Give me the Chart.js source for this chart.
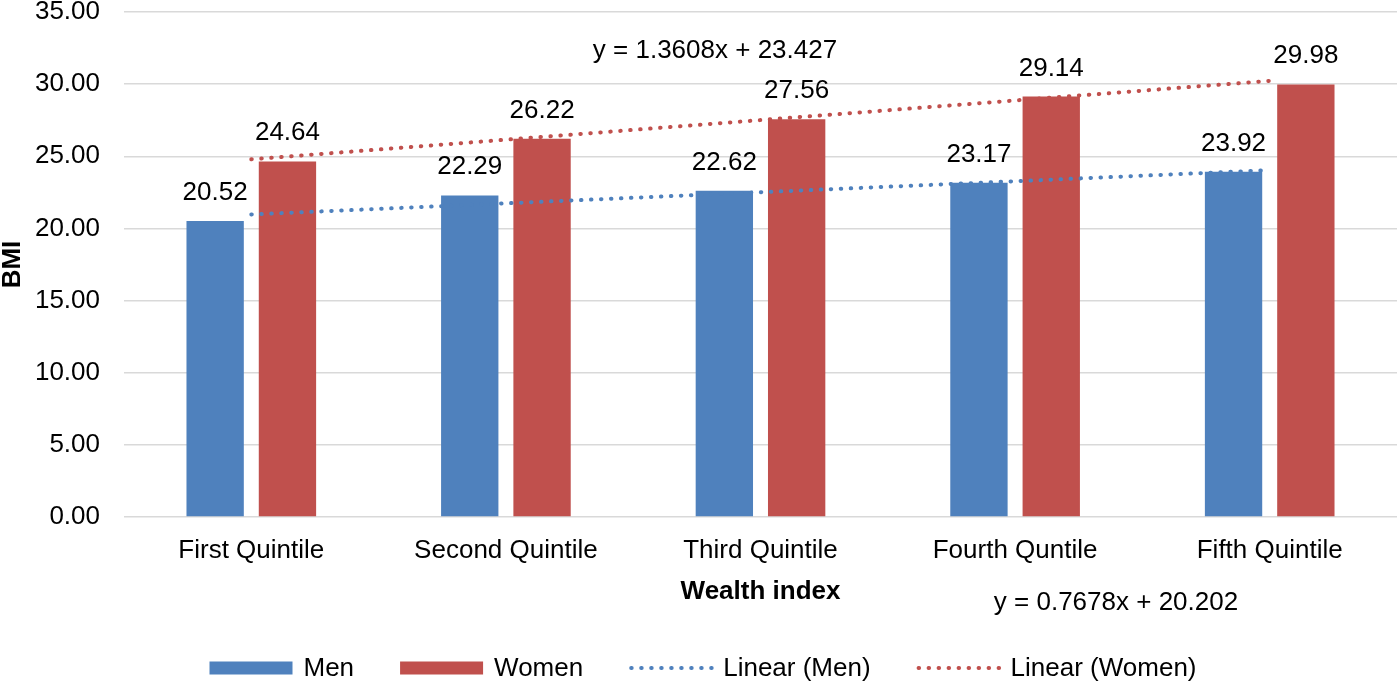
<!DOCTYPE html>
<html>
<head>
<meta charset="utf-8">
<script src="https://cdn.jsdelivr.net/npm/chart.js@4.4.1/dist/chart.umd.min.js"></script>
<style>
  html, body { margin: 0; padding: 0; background: #fff; }
  #wrap { width: 1400px; height: 684px; }
</style>
</head>
<body>
<div id="wrap"><canvas id="bmiChart"></canvas></div>
<script>
// data
const categories = ["First Quintile", "Second Quintile", "Third Quintile", "Fourth Quntile", "Fifth Quintile"];
const menBmi = [20.52, 22.29, 22.62, 23.17, 23.92];
const womenBmi = [24.64, 26.22, 27.56, 29.14, 29.98];
const menTrend = [20.97, 21.74, 22.51, 23.27, 24.04];
const womenTrend = [24.79, 26.15, 27.51, 28.87, 30.23];
const yTicks = [0, 5, 10, 15, 20, 25, 30, 35];
const menEquation = "y = 0.7678x + 20.202";
const womenEquation = "y = 1.3608x + 23.427";

const BLUE = "#4f81bd";
const RED = "#c0504d";
const FONT = "'Liberation Sans', Arial, sans-serif";
const SIZE = 26;

// value labels above bars
const barLabels = {
  id: "barLabels",
  afterDatasetsDraw(chart) {
    const ctx = chart.ctx;
    ctx.save();
    ctx.font = SIZE + "px " + FONT;
    ctx.fillStyle = "#000";
    ctx.textAlign = "center";
    ctx.textBaseline = "alphabetic";
    chart.data.datasets.forEach((ds, i) => {
      if (ds.type !== "bar") return;
      chart.getDatasetMeta(i).data.forEach((bar, j) => {
        ctx.fillText(ds.data[j].toFixed(2), bar.x, bar.y - 21);
      });
    });
    ctx.restore();
  },
};

// trendline equations + legend at the bottom
const extras = {
  id: "extras",
  afterDraw(chart) {
    const ctx = chart.ctx;
    ctx.save();
    ctx.font = SIZE + "px " + FONT;
    ctx.fillStyle = "#000";
    ctx.textAlign = "center";
    ctx.textBaseline = "alphabetic";
    ctx.fillText(womenEquation, 715, 58);
    ctx.fillText(menEquation, 1116, 610);

    const items = [
      { text: "Men", color: BLUE, dotted: false },
      { text: "Women", color: RED, dotted: false },
      { text: "Linear (Men)", color: BLUE, dotted: true },
      { text: "Linear (Women)", color: RED, dotted: true },
    ];
    const boxW = 83, gap = 11, spacing = 46, cy = 668;
    let total = 0;
    items.forEach((it, i) => {
      it.w = ctx.measureText(it.text).width;
      total += boxW + gap + it.w + (i < items.length - 1 ? spacing : 0);
    });
    let x = 703 - total / 2;
    ctx.textAlign = "left";
    ctx.textBaseline = "middle";
    items.forEach((it) => {
      if (it.dotted) {
        ctx.strokeStyle = it.color;
        ctx.lineWidth = 4;
        ctx.lineCap = "round";
        ctx.setLineDash([0.5, 9.5]);
        ctx.beginPath();
        ctx.moveTo(x + 2, cy);
        ctx.lineTo(x + boxW, cy);
        ctx.stroke();
        ctx.setLineDash([]);
      } else {
        ctx.fillStyle = it.color;
        ctx.fillRect(x, cy - 6.5, boxW, 13);
      }
      ctx.fillStyle = "#000";
      ctx.fillText(it.text, x + boxW + gap, cy + 1);
      x += boxW + gap + it.w + spacing;
    });
    ctx.restore();
  },
};

new Chart(document.getElementById("bmiChart"), {
  data: {
    labels: categories,
    datasets: [
      {
        type: "line",
        label: "Linear (Men)",
        data: menTrend,
        borderColor: BLUE,
        borderWidth: 4,
        borderDash: [0.5, 9.5],
        borderCapStyle: "round",
        pointRadius: 0,
        fill: false,
      },
      {
        type: "line",
        label: "Linear (Women)",
        data: womenTrend,
        borderColor: RED,
        borderWidth: 4,
        borderDash: [0.5, 9.5],
        borderCapStyle: "round",
        pointRadius: 0,
        fill: false,
      },
      {
        type: "bar",
        label: "Men",
        data: menBmi,
        backgroundColor: BLUE,
        categoryPercentage: 0.568,
        barPercentage: 0.793,
      },
      {
        type: "bar",
        label: "Women",
        data: womenBmi,
        backgroundColor: RED,
        categoryPercentage: 0.568,
        barPercentage: 0.793,
      },
    ],
  },
  options: {
    responsive: true,
    maintainAspectRatio: false,
    animation: false,
    layout: { padding: { top: 12, right: 3, bottom: 67, left: 0 } },
    plugins: {
      legend: { display: false },
      tooltip: { enabled: false },
    },
    scales: {
      x: {
        grid: { display: false },
        border: { display: false },
        ticks: { color: "#000", font: { family: FONT, size: SIZE }, padding: 10, maxRotation: 0 },
        title: {
          display: true,
          text: "Wealth index",
          color: "#000",
          font: { family: FONT, size: SIZE, weight: "bold" },
          padding: { top: 0, bottom: 10 },
        },
        afterFit(scale) {
          scale.height = 100;
          scale.paddingLeft = 0;
          scale.paddingRight = 0;
        },
      },
      y: {
        min: 0,
        max: 35,
        grid: { color: "#d9d9d9", lineWidth: 1.5, drawTicks: false },
        border: { display: false },
        ticks: {
          color: "#000",
          font: { family: FONT, size: SIZE },
          padding: 24,
          callback: (v) => Number(v).toFixed(2),
        },
        afterBuildTicks(scale) {
          scale.ticks = yTicks.map((v) => ({ value: v }));
        },
        title: {
          display: true,
          text: "BMI",
          color: "#000",
          font: { family: FONT, size: SIZE, weight: "bold" },
          padding: { top: -3, bottom: 0 },
        },
        afterFit(scale) {
          scale.width = 124;
          scale.paddingTop = 0;
          scale.paddingBottom = 0;
        },
      },
    },
  },
  plugins: [barLabels, extras],
});
</script>
</body>
</html>
